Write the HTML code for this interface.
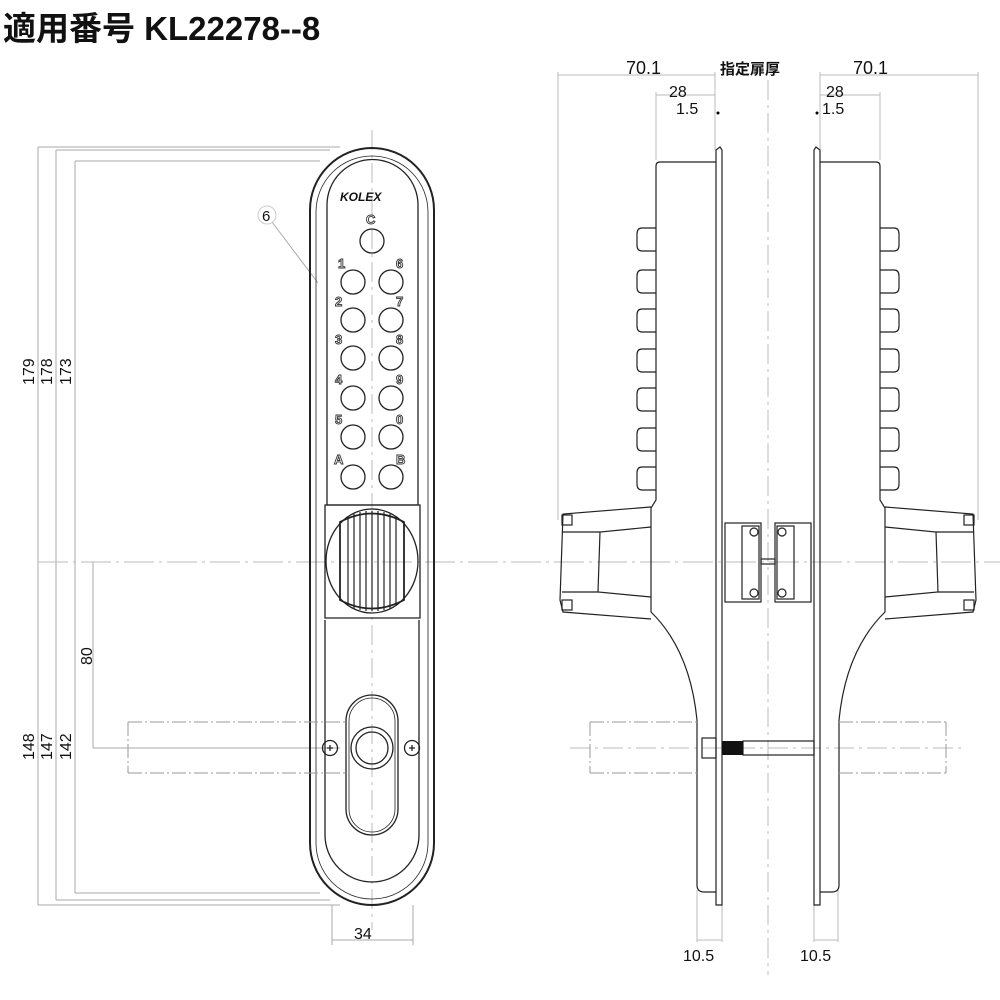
<!DOCTYPE html>
<html><head><meta charset="utf-8"><style>
html,body{margin:0;padding:0;background:#fff;width:1000px;height:1000px;overflow:hidden}
svg{display:block}
text{font-family:"Liberation Sans","Noto Sans CJK JP",sans-serif;fill:#111}
text.o{fill:#fff;stroke:#333;stroke-width:0.9}
</style></head><body>
<svg width="1000" height="1000" viewBox="0 0 1000 1000" xmlns="http://www.w3.org/2000/svg">
<text x="3" y="40" font-size="33" font-weight="bold" font-family="'Noto Sans CJK JP',sans-serif">適用番号 KL22278--8</text>

<!-- LEFT dimension lines -->
<g stroke="#aaa" stroke-width="1" fill="none">
<line x1="38" y1="147" x2="38" y2="905"/><line x1="56" y1="150" x2="56" y2="900"/><line x1="75" y1="161" x2="75" y2="893"/>
<line x1="93" y1="562" x2="93" y2="748"/>
<line x1="38" y1="147" x2="340" y2="147"/><line x1="56" y1="150" x2="330" y2="150"/><line x1="75" y1="161" x2="320" y2="161"/>
<line x1="38" y1="562" x2="1000" y2="562" stroke-dasharray="30,5,3,5" stroke="#bbb"/>
<line x1="93" y1="748" x2="340" y2="748"/>
<line x1="38" y1="905" x2="340" y2="905"/><line x1="56" y1="900" x2="330" y2="900"/><line x1="75" y1="893" x2="320" y2="893"/>
<line x1="332" y1="905" x2="332" y2="945"/><line x1="413" y1="905" x2="413" y2="945"/><line x1="332" y1="940" x2="413" y2="940"/>
<line x1="372" y1="130" x2="372" y2="930" stroke-dasharray="20,5,3,5" stroke="#bbb"/>
<line x1="272" y1="222" x2="318" y2="283"/>
</g>
<circle cx="267" cy="215" r="9" fill="#fff" stroke="#ccc"/>
<text x="262" y="221" font-size="15">6</text>
<g font-size="16">
<text transform="translate(34,385) rotate(-90)">179</text>
<text transform="translate(52,385) rotate(-90)">178</text>
<text transform="translate(71,385) rotate(-90)">173</text>
<text transform="translate(92,665) rotate(-90)">80</text>
<text transform="translate(34,760) rotate(-90)">148</text>
<text transform="translate(52,760) rotate(-90)">147</text>
<text transform="translate(71,760) rotate(-90)">142</text>
<text x="354" y="939">34</text>
</g>

<!-- FRONT VIEW -->
<g fill="none" stroke="#222" stroke-width="1.3">
<path d="M310,210 A62,62 0 0 1 434,210 L434,843 A62,62 0 0 1 310,843 Z" stroke-width="2"/>
<path d="M316,212 A56,56 0 0 1 428,212 L428,843 A56,56 0 0 1 316,843 Z" stroke-width="0.8"/>
<path d="M327,205 A45,45 0 0 1 418,205 L418,505 L327,505 Z"/>
<path d="M325,505 L420,505 L420,618 L325,618 Z"/>
<path d="M325,620 L325,835 A47,47 0 0 0 419,835 L419,620"/>
<ellipse cx="372" cy="561" rx="46" ry="52"/>
<path d="M340,522 Q372,505 404,522 L404,600 Q372,617 340,600 Z" stroke-width="1.8"/>
<g stroke-width="1.2"><line x1="348" y1="516" x2="348" y2="606"/><line x1="354" y1="514" x2="354" y2="609"/><line x1="360" y1="512" x2="360" y2="610"/><line x1="366" y1="511" x2="366" y2="611"/><line x1="372" y1="511" x2="372" y2="611"/><line x1="378" y1="511" x2="378" y2="611"/><line x1="384" y1="512" x2="384" y2="610"/><line x1="390" y1="514" x2="390" y2="609"/><line x1="396" y1="516" x2="396" y2="606"/></g>
<rect x="346" y="695" width="52" height="140" rx="26"/>
<rect x="349" y="698" width="46" height="134" rx="23" stroke-width="0.8"/>
<circle cx="372" cy="748" r="21"/><circle cx="372" cy="748" r="16"/>
<circle cx="330" cy="748" r="7.5"/><circle cx="412" cy="748" r="7.5"/>
<path d="M327,748h6M330,745v6M409,748h6M412,745v6"/>
<circle cx="372" cy="241" r="12"/>
<circle cx="353" cy="282" r="12"/><circle cx="391" cy="282" r="12"/>
<circle cx="353" cy="320" r="12"/><circle cx="391" cy="320" r="12"/>
<circle cx="353" cy="358" r="12"/><circle cx="391" cy="358" r="12"/>
<circle cx="353" cy="398" r="12"/><circle cx="391" cy="398" r="12"/>
<circle cx="353" cy="437" r="12"/><circle cx="391" cy="437" r="12"/>
<circle cx="353" cy="477" r="12"/><circle cx="391" cy="477" r="12"/>
</g>
<path d="M128,722 H346 M128,773 H346 M128,722 V773" fill="none" stroke="#999" stroke-dasharray="14,3,2,3"/>
<text x="340" y="201" font-size="12" font-style="italic" font-weight="bold">KOLEX</text>
<g font-size="13" font-weight="bold">
<text class="o" x="366" y="224">C</text>
<text class="o" x="338" y="268">1</text><text class="o" x="396" y="268">6</text>
<text class="o" x="335" y="306">2</text><text class="o" x="396" y="306">7</text>
<text class="o" x="335" y="344">3</text><text class="o" x="396" y="344">8</text>
<text class="o" x="335" y="384">4</text><text class="o" x="396" y="384">9</text>
<text class="o" x="335" y="424">5</text><text class="o" x="396" y="424">0</text>
<text class="o" x="334" y="464">A</text><text class="o" x="396" y="464">B</text>
</g>

<!-- SIDE VIEW -->
<g stroke="#bbb" fill="none" stroke-width="1">
<line x1="558" y1="72" x2="558" y2="520"/><line x1="978" y1="72" x2="978" y2="520"/>
<line x1="656" y1="92" x2="656" y2="160"/><line x1="880" y1="92" x2="880" y2="160"/>
<line x1="715" y1="72" x2="715" y2="150"/><line x1="820" y1="72" x2="820" y2="150"/>
<line x1="558" y1="75" x2="715" y2="75"/><line x1="820" y1="75" x2="978" y2="75"/>
<line x1="656" y1="95" x2="715" y2="95"/><line x1="820" y1="95" x2="880" y2="95"/>
<line x1="768" y1="80" x2="768" y2="975" stroke-dasharray="20,5,3,5"/>
<line x1="697" y1="890" x2="697" y2="942"/><line x1="722" y1="905" x2="722" y2="942"/>
<line x1="697" y1="940" x2="722" y2="940"/>
<line x1="814" y1="905" x2="814" y2="942"/><line x1="838" y1="890" x2="838" y2="942"/>
<line x1="814" y1="940" x2="838" y2="940"/>
<line x1="570" y1="748" x2="965" y2="748" stroke-dasharray="20,5,3,5"/>
</g>
<circle cx="718" cy="113" r="1.5" fill="#000"/><circle cx="817" cy="113" r="1.5" fill="#000"/>
<g font-size="18">
<text x="626" y="74">70.1</text><text x="853" y="74">70.1</text>
<text x="669" y="97" font-size="16">28</text><text x="826" y="97" font-size="16">28</text>
<text x="676" y="114" font-size="16">1.5</text><text x="822" y="114" font-size="16">1.5</text>
<text x="720" y="74" font-size="15" font-weight="bold" font-family="'Noto Sans CJK JP',sans-serif">指定扉厚</text>
<text x="683" y="961" font-size="16">10.5</text><text x="800" y="961" font-size="16">10.5</text>
</g>
<g fill="none" stroke="#222" stroke-width="1.2">
<path d="M716,905 V150 L720,147 L722,150 V905 Z"/><path d="M814,905 V150 L816,147 L820,150 V905 Z"/>
<path d="M716,162 H660 Q656,162 656,166 V500 L651,508 V612 Q690,650 697,720 V885 Q697,892 704,892 H716"/>
<path d="M651,507 L563,514 L560,600 L563,612 L651,619"/>
<path d="M651,527 L600,532 L598,592 L651,597 M600,532 L562,532 M598,592 L562,592"/>
<rect x="562" y="515" width="10" height="10"/><rect x="562" y="600" width="10" height="10"/>
<path d="M820,162 H876 Q880,162 880,166 V500 L885,508 V612 Q846,650 839,720 V885 Q839,892 832,892 H820"/>
<path d="M885,507 L973,514 L976,600 L973,612 L885,619"/>
<path d="M885,527 L936,532 L938,592 L885,597 M936,532 L974,532 M938,592 L974,592"/>
<rect x="964" y="515" width="10" height="10"/><rect x="964" y="600" width="10" height="10"/>
<g id="lb">
<path d="M656,228 H642 Q637,228 637,234 V245 Q637,251 642,251 H656"/>
<path d="M656,270 H642 Q637,270 637,276 V287 Q637,293 642,293 H656"/>
<path d="M656,309 H642 Q637,309 637,315 V326 Q637,332 642,332 H656"/>
<path d="M656,349 H642 Q637,349 637,355 V366 Q637,372 642,372 H656"/>
<path d="M656,388 H642 Q637,388 637,394 V405 Q637,411 642,411 H656"/>
<path d="M656,428 H642 Q637,428 637,434 V445 Q637,451 642,451 H656"/>
<path d="M656,467 H642 Q637,467 637,473 V484 Q637,490 642,490 H656"/>
</g>
<use href="#lb" transform="translate(1536,0) scale(-1,1)"/>
<rect x="725" y="523" width="36" height="79"/><rect x="742" y="526" width="17" height="73"/>
<rect x="775" y="523" width="36" height="79"/><rect x="777" y="526" width="17" height="73"/>
<circle cx="754" cy="532" r="4"/><circle cx="754" cy="593" r="4"/>
<circle cx="782" cy="532" r="4"/><circle cx="782" cy="593" r="4"/>
<rect x="761" y="559" width="14" height="5"/>
<rect x="743" y="741" width="71" height="14"/>
<rect x="702" y="738" width="14" height="20"/>
</g>
<rect x="722" y="741" width="21" height="14" fill="#111"/>
<path d="M590,722 H697 M590,773 H697 M590,722 V773 M839,722 H946 M839,773 H946 M946,722 V773" fill="none" stroke="#999" stroke-dasharray="14,3,2,3"/>
</svg>
</body></html>
